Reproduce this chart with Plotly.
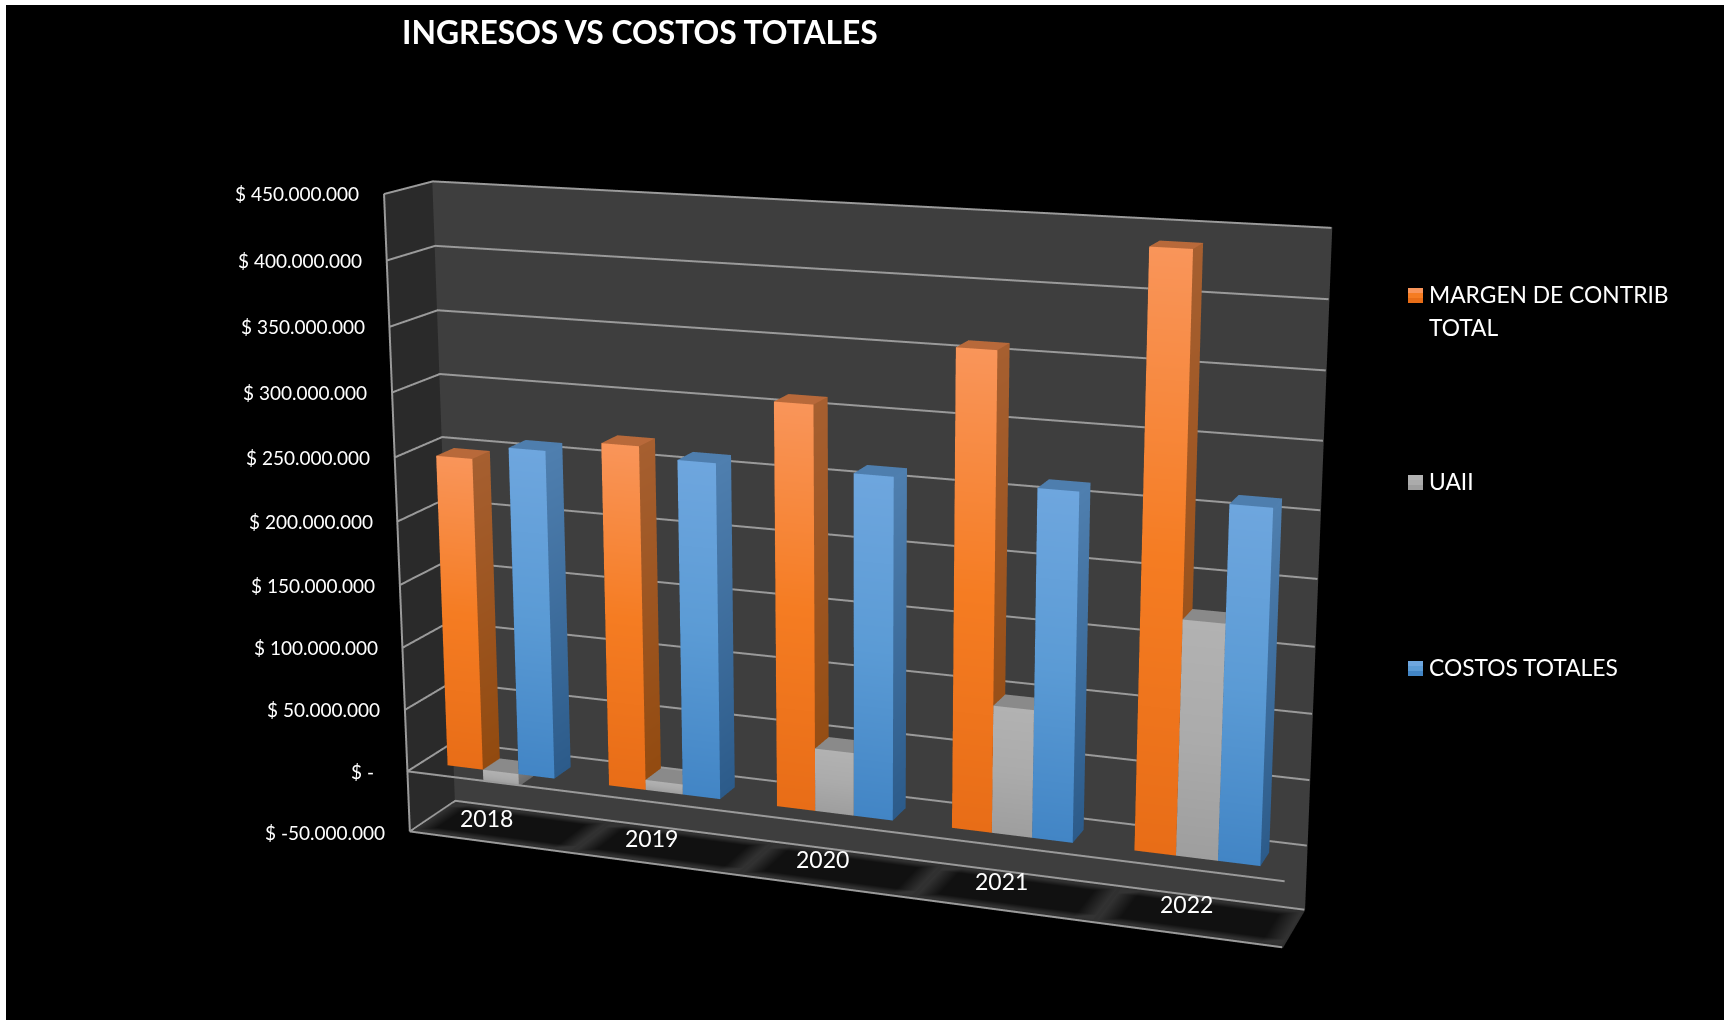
import plotly.graph_objects as go

# Chart data (amounts in pesos)
years = ["2018", "2019", "2020", "2021", "2022"]
margen = [248e6, 268.5e6, 310e6, 359e6, 438e6]
uaii = [-10e6, 8e6, 49e6, 97.5e6, 176e6]
costos = [259e6, 260.5e6, 261.5e6, 262e6, 262e6]
z_ticks = [-50e6, 0, 50e6, 100e6, 150e6, 200e6, 250e6, 300e6, 350e6, 400e6, 450e6]
z_labels = ["$ -50.000.000", "$ -", "$ 50.000.000", "$ 100.000.000", "$ 150.000.000", "$ 200.000.000",
            "$ 250.000.000", "$ 300.000.000", "$ 350.000.000", "$ 400.000.000", "$ 450.000.000"]
series_names = ["MARGEN DE CONTRIB", "TOTAL", "UAII", "COSTOS TOTALES"]

# Page geometry: the tall canvas gives the long lens, the visible window is 1724x1020
FIG_W, FIG_H = 1770, 2434
PAGE_TOP = -683
Z_MIN, Z_MAX = z_ticks[0], z_ticks[-1]
FONT = "Lato"

PALETTES = {
    "orange": dict(top="#F9955A", mid="#F57C22", bot="#E86D17", side_top="#A65F30", side_bot="#924A0F", cap="#B8693A"),
    "grey": dict(top="#B2B2B2", mid="#ABABAB", bot="#9E9E9E", side_top="#7A7A7A", side_bot="#6A6A6A", cap="#8A8A8A"),
    "blue": dict(top="#6EA6DE", mid="#5B9BD5", bot="#4285C5", side_top="#4F7FAF", side_bot="#2C5B8A", cap="#4E7EAE"),
}


def px(x):
    return x / FIG_W


def py(y):
    return 1 - (y - PAGE_TOP) / FIG_H


class Mesh:
    def __init__(self):
        self.x, self.y, self.z, self.c, self.i, self.j, self.k = [], [], [], [], [], [], []

    def quad(self, pts, cols):
        n = len(self.x)
        for (a, b, d), col in zip(pts, cols):
            self.x.append(a)
            self.y.append(b)
            self.z.append(d)
            self.c.append(col)
        self.i += [n, n]
        self.j += [n + 1, n + 2]
        self.k += [n + 2, n + 3]

    def trace(self, name):
        return go.Mesh3d(x=self.x, y=self.y, z=self.z, i=self.i, j=self.j, k=self.k, vertexcolor=self.c,
                         flatshading=True, name=name, hoverinfo="skip", showscale=False,
                         lighting=dict(ambient=1, diffuse=0, specular=0, roughness=1, fresnel=0))


def add_bar(m, x0, x1, y0, y1, value, pal):
    lo, hi = min(0, value), max(0, value)
    mid = (lo + hi) / 2
    # front face, two bands so the shading has three stops
    m.quad([(x0, y0, lo), (x1, y0, lo), (x1, y0, mid), (x0, y0, mid)], [pal["bot"]] * 2 + [pal["mid"]] * 2)
    m.quad([(x0, y0, mid), (x1, y0, mid), (x1, y0, hi), (x0, y0, hi)], [pal["mid"]] * 2 + [pal["top"]] * 2)
    # right, left and back faces
    sides = [pal["side_bot"]] * 2 + [pal["side_top"]] * 2
    m.quad([(x1, y0, lo), (x1, y1, lo), (x1, y1, hi), (x1, y0, hi)], sides)
    m.quad([(x0, y0, lo), (x0, y1, lo), (x0, y1, hi), (x0, y0, hi)], sides)
    m.quad([(x0, y1, lo), (x1, y1, lo), (x1, y1, hi), (x0, y1, hi)], sides)
    # cap and underside
    m.quad([(x0, y0, hi), (x1, y0, hi), (x1, y1, hi), (x0, y1, hi)], [pal["cap"]] * 4)
    m.quad([(x0, y0, lo), (x1, y0, lo), (x1, y1, lo), (x0, y1, lo)], [pal["side_bot"]] * 4)


traces = []
BAR_W = 2 / 9
BAR_Y0, BAR_Y1 = 0.31, 0.69
for k, (values, pal, nm) in enumerate([(margen, "orange", "MARGEN DE CONTRIB TOTAL"),
                                       (uaii, "grey", "UAII"),
                                       (costos, "blue", "COSTOS TOTALES")]):
    m = Mesh()
    for n, v in enumerate(values):
        x0 = n + 1 / 6 + k * BAR_W
        add_bar(m, x0, x0 + BAR_W, BAR_Y0, BAR_Y1, v, PALETTES[pal])
    traces.append(m.trace(nm))

# Dark soft-edged band on the floor under each category
floor_m = Mesh()
FLOOR_Z = Z_MIN + 0.4e6
xe = [0.01, 0.12, 0.88, 0.99]
ye = [0.07, 0.2, 0.8, 0.93]
for n in range(len(years)):
    for a in range(3):
        for b in range(3):
            corners = [(a, b), (a + 1, b), (a + 1, b + 1), (a, b + 1)]
            pts = [(n + xe[p], ye[q], FLOOR_Z) for p, q in corners]
            cols = ["#111111" if p in (1, 2) and q in (1, 2) else "#333333" for p, q in corners]
            floor_m.quad(pts, cols)
traces.append(floor_m.trace("floor"))

# Grid and frame lines, inset a hair so the scene clipping leaves them whole
FRAME = "#9A9A9A"
n_cat = len(years)
X_EPS, Y_EPS, Z_EPS = 0.004, 0.002, 0.5e6
Z_LOW, Z_HIGH = Z_MIN + Z_EPS, Z_MAX - Z_EPS
frame_lines = [
    ([X_EPS, n_cat - X_EPS], [Y_EPS, Y_EPS], [0, 0]),
    ([X_EPS, n_cat - X_EPS], [Y_EPS, Y_EPS], [Z_LOW, Z_LOW]),
    ([X_EPS, X_EPS], [Y_EPS, Y_EPS], [Z_LOW, Z_HIGH]),
]
for t in z_ticks:
    level = min(max(t, Z_LOW), Z_HIGH)
    frame_lines.append(([X_EPS, X_EPS, n_cat - X_EPS], [Y_EPS, 1 - Y_EPS, 1 - Y_EPS], [level, level, level]))
for xs, ys, zs in frame_lines:
    traces.append(go.Scatter3d(x=xs, y=ys, z=zs, mode="lines", line=dict(color=FRAME, width=4),
                               hoverinfo="skip", showlegend=False))

fig = go.Figure(traces)

scene_ann = []
for val, lab in zip(z_ticks, z_labels):
    # the zero label carries the number format's trailing padding
    shift = -31 if val == 0 else -22
    scene_ann.append(dict(x=0, y=0, z=val, text=lab, showarrow=False, xanchor="right", yanchor="middle",
                          xshift=shift, font=dict(family=FONT, size=19, color="#FFFFFF")))
for n, y_lab in enumerate(years):
    scene_ann.append(dict(x=n + 0.5, y=0.5, z=Z_MIN, text=y_lab, showarrow=False, xanchor="center",
                          yanchor="middle", xshift=-24 + 2.75 * n, yshift=9 + n,
                          font=dict(family=FONT, size=23, color="#FFFFFF")))


def hidden_axis(rng, wall):
    return dict(range=rng, showgrid=False, zeroline=False, showline=False, showticklabels=False, ticks="",
                title=dict(text=""), showspikes=False, showbackground=True, backgroundcolor=wall)


layout_ann = [dict(x=px(400), y=py(32), xref="paper", yref="paper", text="<b>INGRESOS VS COSTOS TOTALES</b>",
                   showarrow=False, xanchor="left", yanchor="middle", font=dict(family=FONT, size=31.8, color="#FFFFFF"))]
for name, yy in zip(series_names, [294, 327, 481, 667]):
    layout_ann.append(dict(x=px(1427), y=py(yy), xref="paper", yref="paper", text=name, showarrow=False,
                           xanchor="left", yanchor="middle", font=dict(family=FONT, size=22.8, color="#FFFFFF")))

shapes = [
    dict(type="rect", xref="paper", yref="paper", x0=0, x1=px(6), y0=py(1020), y1=py(0),
         fillcolor="#FFFFFF", line_width=0, layer="above"),
    dict(type="rect", xref="paper", yref="paper", x0=0, x1=px(1724), y0=py(5), y1=py(0),
         fillcolor="#FFFFFF", line_width=0, layer="above"),
]
# Legend keys, three strips per key for the shading
for pal, (top_y) in zip(["orange", "grey", "blue"], [287, 474, 660]):
    p = PALETTES[pal]
    for s, col in enumerate([p["top"], p["mid"], p["bot"]]):
        shapes.append(dict(type="rect", xref="paper", yref="paper", x0=px(1408), x1=px(1423),
                           y0=py(top_y + 5 * (s + 1) + 1), y1=py(top_y + 5 * s + 1),
                           fillcolor=col, line_width=0, layer="above"))

fig.update_layout(
    width=FIG_W, height=FIG_H, autosize=False, margin=dict(l=0, r=0, t=0, b=0, pad=0),
    paper_bgcolor="#000000", plot_bgcolor="#000000", showlegend=False, annotations=layout_ann, shapes=shapes,
    scene=dict(
        domain=dict(x=[0, 1], y=[0, 1]), bgcolor="rgba(0,0,0,0)", dragmode="orbit",
        aspectmode="manual", aspectratio=dict(x=3.5199, y=0.3867, z=2.5431),
        camera=dict(eye=dict(x=3.7135, y=-9.9308, z=2.7751), center=dict(x=2.7576, y=-7.248, z=2.0454),
                    up=dict(x=-0.122, y=0.334, z=1.384), projection=dict(type="perspective")),
        xaxis=hidden_axis([0, n_cat], "#2A2A2A"),
        yaxis=hidden_axis([0, 1], "#3E3E3E"),
        zaxis=hidden_axis([Z_MIN, Z_MAX], "#303030"),
        annotations=scene_ann,
    ),
)

page_script = (
    "var gd=document.getElementById('{plot_id}');"
    "gd.style.position='absolute';gd.style.left='0';gd.style.top='" + str(PAGE_TOP) + "px';"
    "document.documentElement.style.overflow='hidden';document.documentElement.style.height='1020px';"
    "document.body.style.overflow='hidden';document.body.style.height='1020px';"
    "document.body.style.position='relative';document.body.style.margin='0';"
)
fig.write_html("out.html", post_script=page_script, config=dict(displayModeBar=False))
